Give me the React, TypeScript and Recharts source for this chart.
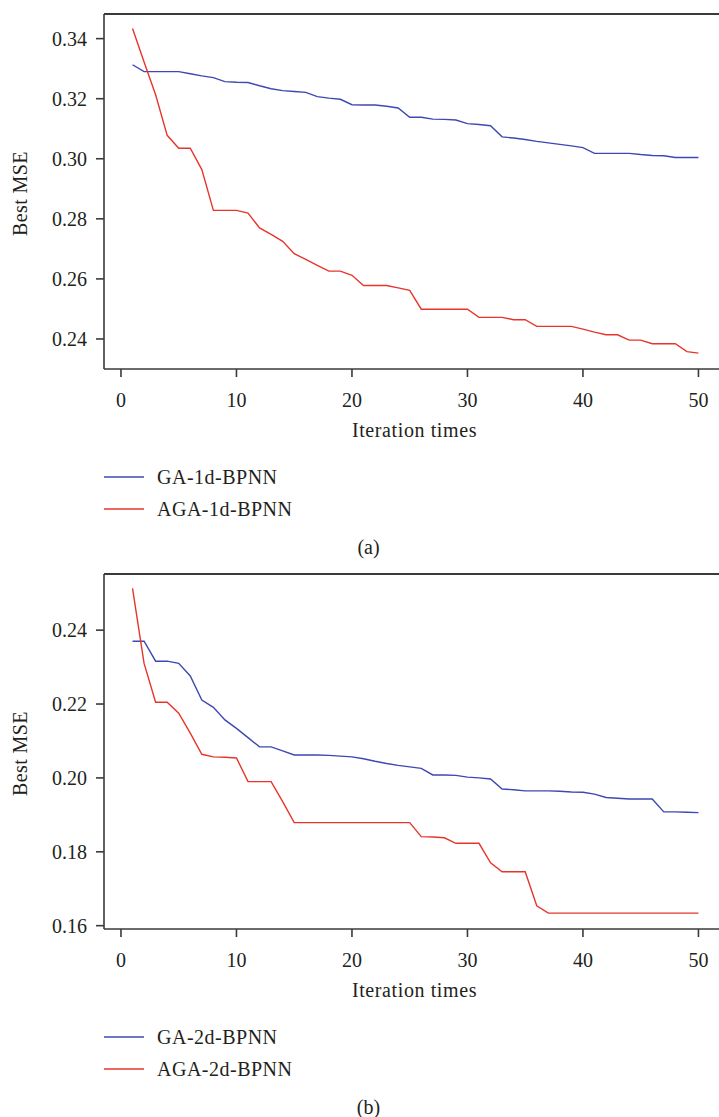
import React from 'react';
import { LineChart, Line, XAxis, YAxis, Label, ReferenceLine } from 'recharts';

const iterations = [
  1, 2, 3, 4, 5, 6, 7, 8, 9, 10,
  11, 12, 13, 14, 15, 16, 17, 18, 19, 20,
  21, 22, 23, 24, 25, 26, 27, 28, 29, 30,
  31, 32, 33, 34, 35, 36, 37, 38, 39, 40,
  41, 42, 43, 44, 45, 46, 47, 48, 49, 50,
];

const ga1d = [
  0.3313, 0.3290, 0.3290, 0.3290, 0.3290, 0.3283, 0.3276, 0.3270, 0.3257, 0.3255,
  0.3254, 0.3243, 0.3233, 0.3227, 0.3224, 0.3221, 0.3207, 0.3202, 0.3198, 0.3180,
  0.3179, 0.3179, 0.3175, 0.3169, 0.3138, 0.3138, 0.3132, 0.3131, 0.3129, 0.3117,
  0.3114, 0.3110, 0.3073, 0.3069, 0.3064, 0.3058, 0.3053, 0.3048, 0.3043, 0.3037,
  0.3018, 0.3018, 0.3018, 0.3018, 0.3014, 0.3011, 0.3010, 0.3004, 0.3004, 0.3004,
];

const aga1d = [
  0.3434, 0.3322, 0.3213, 0.3078, 0.3035, 0.3035, 0.2964, 0.2828, 0.2828, 0.2828,
  0.2819, 0.2770, 0.2748, 0.2725, 0.2684, 0.2665, 0.2645, 0.2626, 0.2626, 0.2612,
  0.2578, 0.2578, 0.2578, 0.2570, 0.2562, 0.2499, 0.2499, 0.2499, 0.2499, 0.2499,
  0.2472, 0.2472, 0.2472, 0.2464, 0.2464, 0.2442, 0.2442, 0.2442, 0.2442, 0.2433,
  0.2423, 0.2414, 0.2414, 0.2396, 0.2396, 0.2384, 0.2384, 0.2384, 0.2358, 0.2353,
];

const ga2d = [
  0.2370, 0.2370, 0.2316, 0.2316, 0.2310, 0.2276, 0.2211, 0.2191, 0.2157, 0.2134,
  0.2109, 0.2084, 0.2084, 0.2073, 0.2062, 0.2062, 0.2062, 0.2061, 0.2059, 0.2057,
  0.2052, 0.2045, 0.2039, 0.2034, 0.2030, 0.2026, 0.2008, 0.2008, 0.2007, 0.2002,
  0.2000, 0.1997, 0.1970, 0.1968, 0.1965, 0.1965, 0.1965, 0.1964, 0.1962, 0.1961,
  0.1956, 0.1947, 0.1945, 0.1943, 0.1943, 0.1943, 0.1908, 0.1908, 0.1907, 0.1906,
];

const aga2d = [
  0.2513, 0.2310, 0.2205, 0.2205, 0.2175, 0.2121, 0.2064, 0.2057, 0.2056, 0.2054,
  0.1990, 0.1990, 0.1990, 0.1936, 0.1879, 0.1879, 0.1879, 0.1879, 0.1879, 0.1879,
  0.1879, 0.1879, 0.1879, 0.1879, 0.1879, 0.1841, 0.1840, 0.1838, 0.1823, 0.1823,
  0.1823, 0.1770, 0.1746, 0.1746, 0.1746, 0.1654, 0.1634, 0.1634, 0.1634, 0.1634,
  0.1634, 0.1634, 0.1634, 0.1634, 0.1634, 0.1634, 0.1634, 0.1634, 0.1634, 0.1634,
];

const xTicks = [0, 10, 20, 30, 40, 50];
const yTicksA = [0.24, 0.26, 0.28, 0.3, 0.32, 0.34];
const yTicksB = [0.16, 0.18, 0.2, 0.22, 0.24];
const namesA = ['GA-1d-BPNN', 'AGA-1d-BPNN'];
const namesB = ['GA-2d-BPNN', 'AGA-2d-BPNN'];
const xTitle = 'Iteration times';
const yTitle = 'Best MSE';

const BLUE = '#3d48b2';
const RED = '#e8352b';
const AXIS = '#3a3a3a';
const TEXT = '#231f20';
const FONT = '"Liberation Serif", "Times New Roman", serif';
const FS = 20;

const X_DOMAIN: [number, number] = [-1.47, 52.3];

type PanelProps = {
  top: number;
  gaVals: number[];
  agaVals: number[];
  yDomain: [number, number];
  yTicks: number[];
  names: string[];
  caption: string;
};

function Panel({ top, gaVals, agaVals, yDomain, yTicks, names, caption }: PanelProps) {
  const data = iterations.map((it, i) => ({ iter: it, ga: gaVals[i], aga: agaVals[i] }));
  const plotTop = 14;
  const plotBottom = 369;
  const tickStyle = { fontFamily: FONT, fontSize: FS, fill: TEXT };
  return (
    <div style={{ position: 'absolute', left: 0, top, width: 719, height: 560, overflow: 'hidden' }}>
      <LineChart
        width={726}
        height={450}
        data={data}
        margin={{ top: plotTop, right: 1, bottom: 0, left: 0 }}
      >
        <XAxis
          dataKey="iter"
          type="number"
          domain={X_DOMAIN}
          allowDataOverflow
          ticks={xTicks}
          interval={0}
          height={450 - plotBottom}
          tickSize={8}
          tickMargin={16}
          tick={tickStyle}
          axisLine={{ stroke: AXIS, strokeWidth: 1.6 }}
          tickLine={{ stroke: AXIS, strokeWidth: 1.6 }}
        >
          <Label
            content={(props: any) => {
              const vb = props.viewBox || { x: 104, y: plotBottom, width: 621 };
              return (
                <text
                  x={vb.x + vb.width / 2}
                  y={vb.y + 68}
                  textAnchor="middle"
                  fontFamily={FONT}
                  fontSize={FS}
                  fill={TEXT}
                  letterSpacing={0.6}
                >
                  {xTitle}
                </text>
              );
            }}
          />
        </XAxis>
        <YAxis
          type="number"
          domain={yDomain}
          allowDataOverflow
          ticks={yTicks}
          interval={0}
          width={104}
          tickSize={8}
          tickMargin={9}
          tick={tickStyle}
          tickFormatter={(v: number) => v.toFixed(2)}
          axisLine={{ stroke: AXIS, strokeWidth: 1.6 }}
          tickLine={{ stroke: AXIS, strokeWidth: 1.6 }}
        >
          <Label
            content={(props: any) => {
              const vb = props.viewBox || { y: plotTop, height: plotBottom - plotTop };
              const cy = vb.y + vb.height / 2 + 2;
              return (
                <text
                  x={27}
                  y={cy}
                  transform={`rotate(-90, 27, ${cy})`}
                  textAnchor="middle"
                  fontFamily={FONT}
                  fontSize={FS}
                  fill={TEXT}
                  letterSpacing={0.4}
                >
                  {yTitle}
                </text>
              );
            }}
          />
        </YAxis>
        <ReferenceLine
          y={yDomain[1]}
          stroke={AXIS}
          strokeWidth={1.8}
          ifOverflow="visible"
        />
        <Line
          type="linear"
          dataKey="ga"
          name={names[0]}
          stroke={BLUE}
          strokeWidth={1.4}
          dot={false}
          activeDot={false}
          isAnimationActive={false}
        />
        <Line
          type="linear"
          dataKey="aga"
          name={names[1]}
          stroke={RED}
          strokeWidth={1.4}
          dot={false}
          activeDot={false}
          isAnimationActive={false}
        />
      </LineChart>
      <svg
        width={719}
        height={560}
        style={{ position: 'absolute', left: 0, top: 0, pointerEvents: 'none' }}
      >
        {names.map((n, i) => {
          const y = plotBottom + 108 + i * 32;
          return (
            <g key={n}>
              <line x1={104} x2={144} y1={y} y2={y} stroke={i === 0 ? BLUE : RED} strokeWidth={1.4} />
              <text
                x={157}
                y={y}
                dominantBaseline="central"
                fontFamily={FONT}
                fontSize={FS}
                fill={TEXT}
                letterSpacing={0.5}
              >
                {n}
              </text>
            </g>
          );
        })}
        <text
          x={368.5}
          y={plotBottom + 178}
          textAnchor="middle"
          dominantBaseline="central"
          fontFamily={FONT}
          fontSize={FS}
          fill={TEXT}
        >
          {caption}
        </text>
      </svg>
    </div>
  );
}

export default function App() {
  return (
    <div
      style={{
        position: 'absolute',
        left: 0,
        top: 0,
        width: 719,
        height: 1117,
        overflow: 'hidden',
        background: '#ffffff',
      }}
    >
      <Panel
        top={0}
        gaVals={ga1d}
        agaVals={aga1d}
        yDomain={[0.23, 0.3482]}
        yTicks={yTicksA}
        names={namesA}
        caption="(a)"
      />
      <Panel
        top={560}
        gaVals={ga2d}
        agaVals={aga2d}
        yDomain={[0.1591, 0.2552]}
        yTicks={yTicksB}
        names={namesB}
        caption="(b)"
      />
    </div>
  );
}
